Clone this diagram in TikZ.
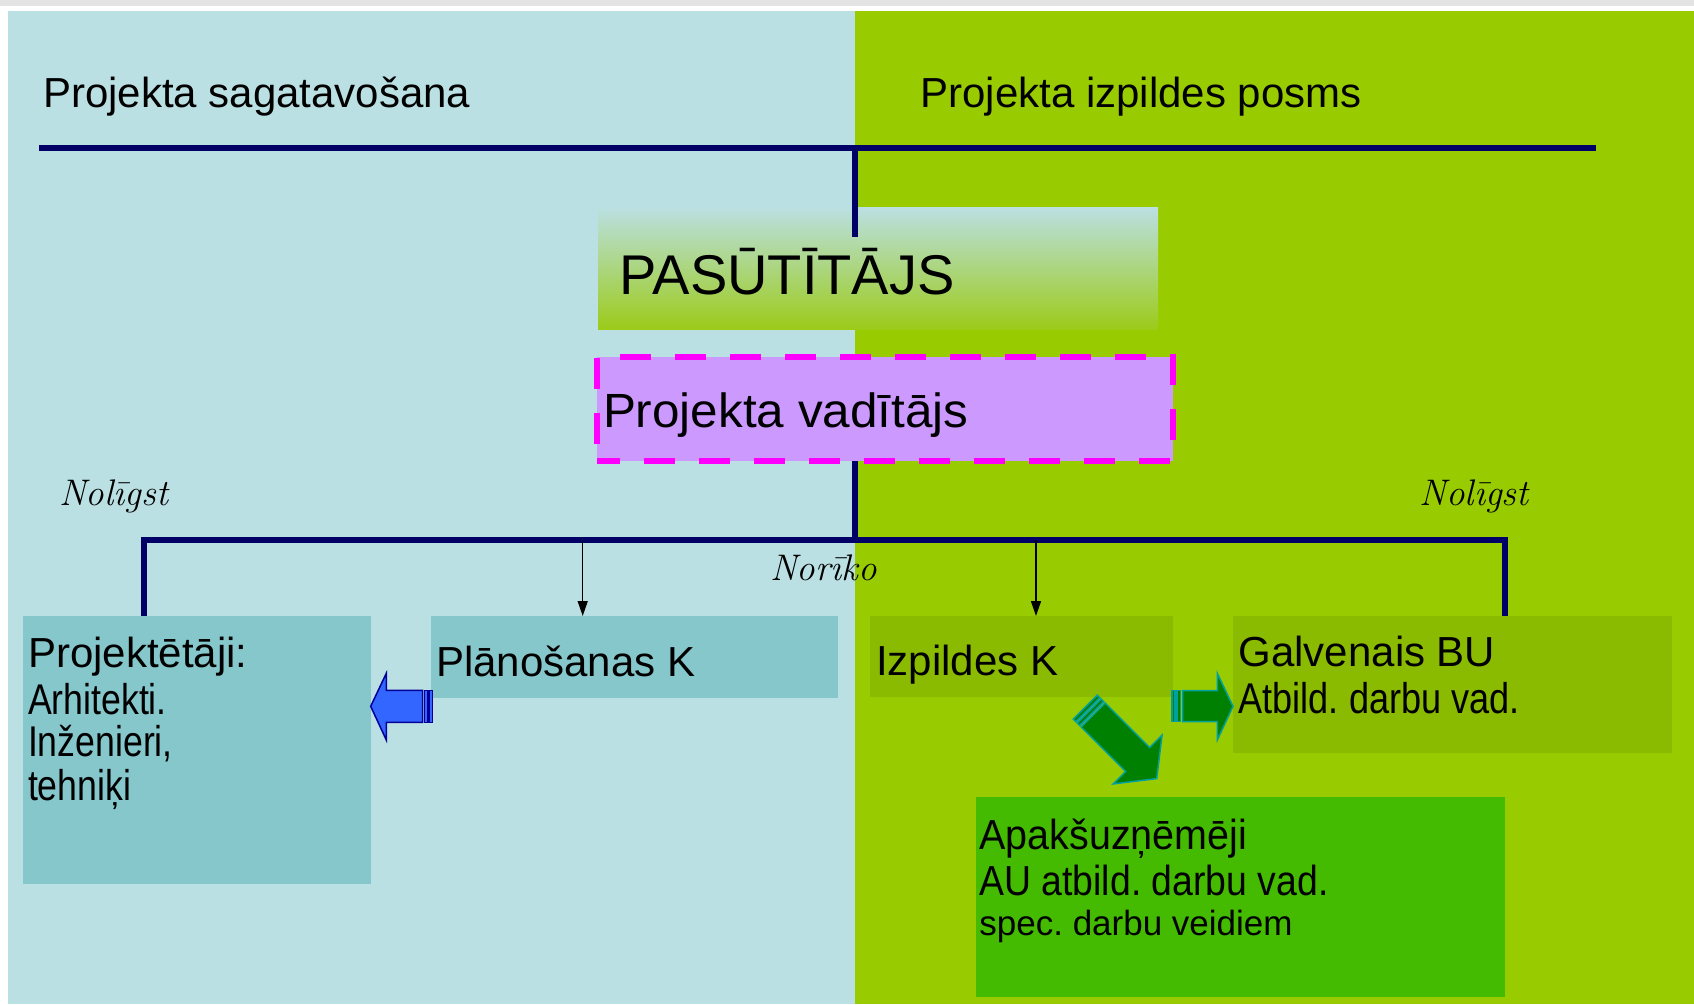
\documentclass[tikz,border=0pt]{standalone}
\usepackage{fontspec}
\newfontfamily\arialf{Liberation Sans}
\usetikzlibrary{arrows.meta}
\definecolor{lb}{HTML}{BBE0E3}
\definecolor{gr}{HTML}{99CC00}
\definecolor{tealbox}{HTML}{86C7CC}
\definecolor{olbox}{HTML}{8BBB00}
\definecolor{apbox}{HTML}{44BB00}
\definecolor{navyl}{HTML}{000066}
\definecolor{magd}{HTML}{FF00FF}
\definecolor{purp}{HTML}{CC99FF}
\definecolor{bluearr}{HTML}{3366FF}
\definecolor{bluebord}{HTML}{000099}
\definecolor{grarr}{HTML}{008000}
\definecolor{tealbord}{HTML}{00A0A0}
\definecolor{stripgray}{HTML}{E3E3E3}
\definecolor{pasbot}{HTML}{9CCB1A}
\newcommand{\fsz}[1]{\fontsize{#1}{#1}\selectfont}
\newcommand{\hsq}[2]{\scalebox{#1}[1]{#2}}
\frenchspacing
\tikzset{
  box/.style={anchor=north west, inner sep=0pt, outer sep=0pt, draw=none},
  txt/.style={anchor=base west, inner sep=0pt, outer sep=0pt, font=\arialf\fsz{42}},
  lbl/.style={anchor=base west, inner sep=0pt, outer sep=0pt, font=\itshape\fsz{37}},
  tree/.style={draw=navyl, line width=6pt, line join=miter},
  thinarr/.style={draw=black, line width=1.5pt, -{Triangle[length=15pt,width=10pt]}},
  bluebl/.style={fill=bluearr, draw=bluebord, line width=1.5pt, line join=miter},
  greenbl/.style={fill=grarr, draw=tealbord, line width=1.5pt, line join=miter}
}
\begin{document}
\begin{tikzpicture}[x=1pt,y=-1pt]
\useasboundingbox (0,0) rectangle (1694,1004);
% background
\fill[white] (0,0) rectangle (1694,1004);
\fill[stripgray] (0,0) rectangle (1694,5.5);
\fill[lb] (8,11) rectangle (854.6,1004);
\fill[gr] (854.6,11) rectangle (1694,1004);

% boxes
\node[box, minimum width=560pt, minimum height=122pt, top color=lb, middle color=lb!72!gr, bottom color=pasbot] (pas) at (598,207) {};
\node[box, draw=magd, fill=purp, line width=6pt, dash pattern=on 31pt off 24pt, dash phase=8pt,
      minimum width=576pt, minimum height=104pt] (pv) at (597,357) {};
\node[box, fill=tealbox, minimum width=348pt, minimum height=268pt] (pr) at (22.7,616) {};
\node[box, fill=tealbox, minimum width=407.4pt, minimum height=81.7pt] (pk) at (431,616) {};
\node[box, fill=olbox, minimum width=303pt, minimum height=81pt] (ik) at (870,616) {};
\node[box, fill=olbox, minimum width=439pt, minimum height=137pt] (gb) at (1233,616) {};
\node[box, fill=apbox, minimum width=529pt, minimum height=200pt] (ap) at (976,796.7) {};

% tree lines
\coordinate (tl) at (39,147.5);
\coordinate (tr) at (1596,147.5);
\coordinate (tj) at (854.5,147.5);
\coordinate (tb) at (854.5,236.7);
\coordinate (hL) at (143.7,540);
\coordinate (hR) at (1504.5,540);
\coordinate (hM) at (854.5,540);
\coordinate (a1) at (582.7,540);
\coordinate (a2) at (1036,540);
\draw[tree] (tl) -- (tr);
\draw[tree] (tj) -- (tb);
\draw[tree] (tj |- pv.south) -- (hM);
\draw[tree] (hL |- pr.north) -- (hL) -- (hR) -- (hR |- gb.north);
\draw[thinarr] (a1) -- (a1 |- pk.north);
\draw[thinarr] (a2) -- (a2 |- ik.north);

% blue block arrow (Planosanas K -> Projektetaji)
\draw[bluebl] (429,690.3) rectangle (432.3,722.3);
\draw[bluebl] (424.5,690.3) rectangle (427.3,722.3);
\draw[bluebl] (422.5,690.3) -- (386.3,690.3) -- (386.3,673.3) -- (pr.east |- 0,706.3)
   -- (386.3,740) -- (386.3,722.3) -- (422.5,722.3) -- cycle;

% green block arrow (Izpildes K -> Galvenais BU)
\draw[greenbl] (1172,690.7) rectangle (1175,721.7);
\draw[greenbl] (1177,690.7) rectangle (1180.5,721.7);
\draw[greenbl] (1182.5,690.7) -- (1217.3,690.7) -- (1217.3,673.3) -- (gb.west |- 0,706.3)
   -- (1217.3,740) -- (1217.3,721.7) -- (1182.5,721.7) -- cycle;

% diagonal green block arrow (Izpildes K -> Apaksuznemeji)
\begin{scope}[shift={(1085.3,707.2)}, rotate=-45]
\draw[greenbl] (0,-17) rectangle (3.5,17);
\draw[greenbl] (5.5,-17) rectangle (9,17);
\draw[greenbl] (11,-17) -- (74,-17) -- (74,-34.5) -- (101,0) -- (74,34.5) -- (74,17) -- (11,17) -- cycle;
\end{scope}

% texts
\node[txt] (h1) at (43,107) {Projekta sagatavošana};
\node[txt] (h2) at (920.5,107) {Projekta izpildes posms};
\node[txt, font=\arialf\fsz{56}] (pasT) at (619.5,294) {PASŪTĪTĀJS};
\node[txt, font=\arialf\fsz{48}] (pvT) at (603,427) {\hsq{1.03}{Projekta vadītājs}};
\node[lbl] (n1) at (59,505) {Nolīgst};
\node[lbl] (n2) at (1419.5,505) {Nolīgst};
\node[lbl] (n3) at (770,580) {Norīko};
\node[txt] (prT1) at (28,667.7) {Projektētāji:};
\node[txt, font=\arialf\fsz{43}] (prT2) at (28,714) {\hsq{0.83}{Arhitekti.}};
\node[txt, font=\arialf\fsz{43}] (prT3) at (28,756.7) {\hsq{0.83}{Inženieri,}};
\node[txt, font=\arialf\fsz{43}] (prT4) at (28,800) {\hsq{0.83}{tehniķi}};
\node[txt] (pkT) at (436,676) {Plānošanas K};
\node[txt] (ikT) at (876,675) {Izpildes K};
\node[txt] (gbT1) at (1238.6,666.7) {Galvenais BU};
\node[txt, font=\arialf\fsz{43}] (gbT2) at (1238.6,713) {\hsq{0.84}{Atbild. darbu vad.}};
\node[txt] (apT1) at (979.4,849.3) {\hsq{0.94}{Apakšuzņēmēji}};
\node[txt] (apT2) at (979.4,895) {\hsq{0.89}{AU atbild. darbu vad.}};
\node[txt, font=\arialf\fsz{35}] (apT3) at (979.4,935) {spec. darbu veidiem};
\end{tikzpicture}
\end{document}
